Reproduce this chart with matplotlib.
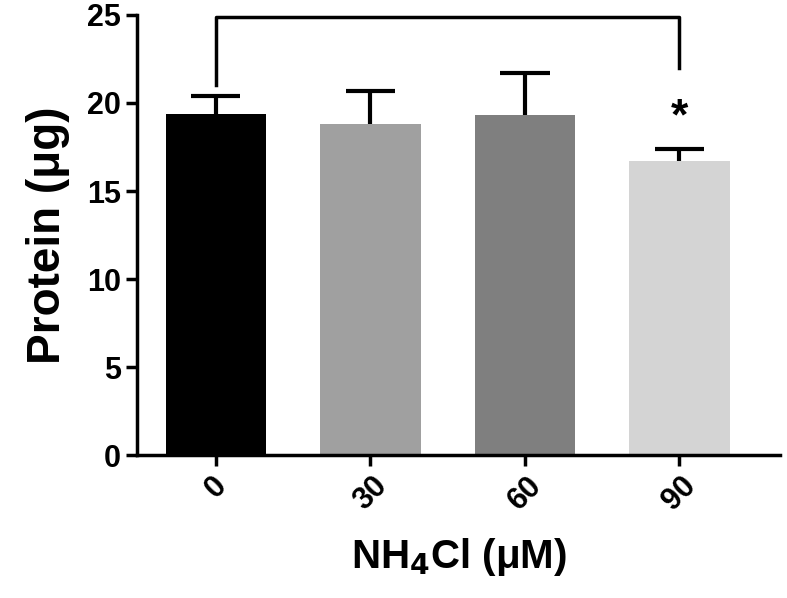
import matplotlib
matplotlib.use("Agg")
import matplotlib.pyplot as plt

categories = ["0", "30", "60", "90"]
values = [19.4, 18.8, 19.3, 16.7]
errors = [1.0, 1.9, 2.4, 0.7]
colors = ["#000000", "#a0a0a0", "#7f7f7f", "#d4d4d4"]

plt.rcParams["font.family"] = "Liberation Sans"
plt.rcParams["font.weight"] = "bold"
fig = plt.figure(figsize=(7.87, 5.98), dpi=100)
ax = fig.add_axes([0.174, 0.239, 0.817, 0.736])
x = list(range(len(categories)))
ax.bar(x, values, width=0.65, color=colors)
tops = [v + e for v, e in zip(values, errors)]
ax.vlines(x, values, tops, color="black", lw=3)
ax.hlines(tops, [i - 0.16 for i in x], [i + 0.16 for i in x], color="black", lw=3)
ax.set_xlim(-0.51, 3.65)
ax.set_ylim(0, 25)
ax.set_yticks([0, 5, 10, 15, 20, 25])
ax.set_xticks(x)
ax.set_xticklabels(categories, rotation=45, fontsize=22, fontweight="bold")
for lab in ax.get_yticklabels():
    lab.set_fontsize(22); lab.set_fontweight("bold")
ax.spines["top"].set_visible(False)
ax.spines["right"].set_visible(False)
for s in ["left", "bottom"]:
    ax.spines[s].set_linewidth(2.5)
ax.tick_params(width=2.5, length=8)
ax.set_ylabel("Protein (μg)", fontsize=33, fontweight="bold", labelpad=12)
ax.set_xlabel("NH$_\\mathbf{4}$Cl (μM)", fontsize=29, fontweight="bold", labelpad=14)
ax.plot([0, 0, 3, 3], [21.0, 24.9, 24.9, 22.0], color="black", lw=2.5, clip_on=False)
ax.text(3, 18.0, "*", ha="center", va="bottom", fontsize=32, fontweight="bold")
fig.savefig("out.png", dpi=100)
